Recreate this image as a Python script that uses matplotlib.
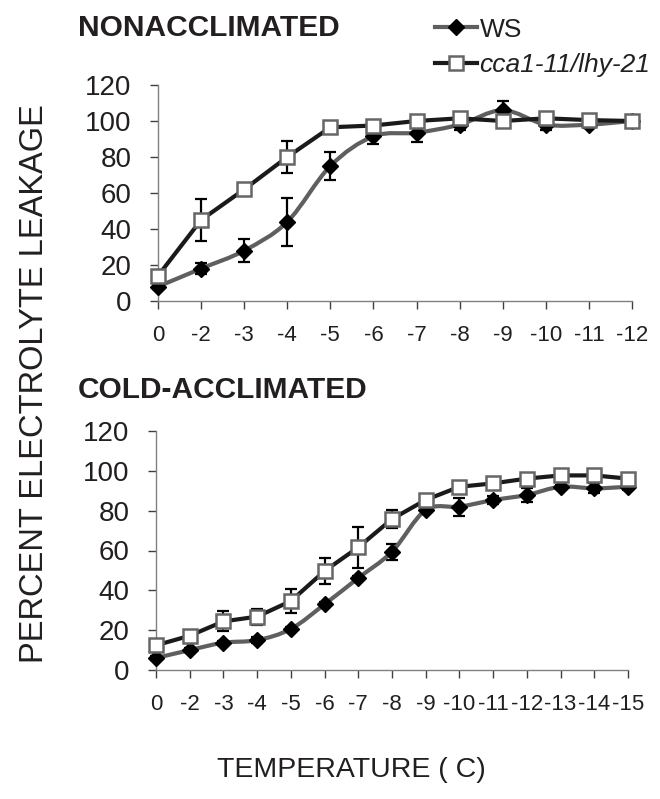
import matplotlib
matplotlib.use("Agg")
import matplotlib.pyplot as plt
from matplotlib.lines import Line2D
from matplotlib.path import Path
from matplotlib.patches import PathPatch

plt.rcParams["font.family"] = ["Liberation Sans", "DejaVu Sans"]

# Nonacclimated
na_temps = ["0", "-2", "-3", "-4", "-5", "-6", "-7", "-8", "-9", "-10", "-11", "-12"]
na_ws = [8, 18, 28, 44, 75, 91.5, 93.5, 98, 106, 98, 98, 100]
na_ws_err = [1.5, 3, 6.5, 13.5, 8, 4.5, 5, 3, 5, 3, 2, 1]
na_cca = [14, 45, 62, 80, 96.5, 97.5, 100, 101.5, 100, 101.5, 100.5, 100]
na_cca_err = [1, 11.5, 1, 9, 1, 1, 1, 1, 1, 1, 1, 1]

# Cold-acclimated
ca_temps = ["0", "-2", "-3", "-4", "-5", "-6", "-7", "-8", "-9", "-10", "-11",
            "-12", "-13", "-14", "-15"]
ca_ws = [6, 10, 13.7, 15, 20.6, 33, 46.2, 59.4, 80.3, 82, 85.3, 87.9, 92, 91.2, 92]
ca_ws_err = [1, 1, 1, 1.5, 1, 1, 1, 4, 1, 4.6, 2, 3.5, 1, 2.5, 1.5]
ca_cca = [12.4, 17.2, 24.4, 26.8, 34.6, 49.7, 61.6, 75.8, 85.4, 92, 93.7, 96.1, 97.7, 97.7, 96.1]
ca_cca_err = [1, 1, 5, 4, 6, 6.7, 10.3, 4.6, 1, 1, 1, 1, 1, 1, 1]

TEXT = "#231f20"
WS_COLOR = "#5f5f5f"
CCA_COLOR = "#1a1a1a"

fig = plt.figure(figsize=(6.6, 7.99), dpi=100)
ax_na = fig.add_axes([158 / 660, 1 - 301 / 799, 474 / 660, 216 / 799])
ax_ca = fig.add_axes([156 / 660, 1 - 670 / 799, 472 / 660, 239 / 799])


def smooth_path(xs, ys):
    # Excel-style smoothed line: cubic Bezier through every point
    pts = list(zip(xs, ys))
    n = len(pts)
    verts = [pts[0]]
    codes = [Path.MOVETO]
    for i in range(n - 1):
        p0 = pts[max(i - 1, 0)]
        p1 = pts[i]
        p2 = pts[i + 1]
        p3 = pts[min(i + 2, n - 1)]
        c1 = (p1[0] + (p2[0] - p0[0]) / 6, p1[1] + (p2[1] - p0[1]) / 6)
        c2 = (p2[0] - (p3[0] - p1[0]) / 6, p2[1] - (p3[1] - p1[1]) / 6)
        verts += [c1, c2, p2]
        codes += [Path.CURVE4] * 3
    return Path(verts, codes)


def draw(ax, temps, ws, ws_err, cca, cca_err):
    x = list(range(len(temps)))
    ax.errorbar(x, ws, yerr=ws_err, fmt="none", ecolor="black", elinewidth=1.6,
                capsize=4, capthick=1.6, clip_on=False, zorder=2)
    ax.add_patch(PathPatch(smooth_path(x, ws), facecolor="none", edgecolor=WS_COLOR,
                           lw=3, clip_on=False, zorder=3))
    ax.plot(x, ws, ls="none", marker="D", ms=8, mfc="black", mec="black",
            clip_on=False, zorder=3)
    ax.errorbar(x, cca, yerr=cca_err, fmt="none", ecolor="black", elinewidth=1.6,
                capsize=4, capthick=1.6, clip_on=False, zorder=4)
    ax.plot(x, cca, color=CCA_COLOR, lw=3, marker="s", ms=10, mfc="white", mec="#666666",
            mew=1.8, clip_on=False, zorder=5)
    ax.set_xlim(0, len(temps) - 1)
    ax.set_ylim(0, 120)
    ax.set_yticks(range(0, 121, 20))
    ax.set_xticks(x)
    ax.set_xticklabels(temps)
    for side in ("top", "right"):
        ax.spines[side].set_visible(False)
    for side in ("left", "bottom"):
        ax.spines[side].set_color("#808080")
        ax.spines[side].set_linewidth(1.0)
    ax.tick_params(axis="y", direction="out", length=6, width=1, color="#404040",
                   pad=13, labelsize=20, labelcolor=TEXT)
    ax.tick_params(axis="x", direction="out", length=6, width=1, color="#404040",
                   pad=11, labelsize=16, labelcolor=TEXT)


draw(ax_na, na_temps, na_ws, na_ws_err, na_cca, na_cca_err)
draw(ax_ca, ca_temps, ca_ws, ca_ws_err, ca_cca, ca_cca_err)

fig.text(78 / 660, 1 - 28 / 799, "NONACCLIMATED", fontsize=21.5, fontweight="bold",
         color=TEXT, ha="left", va="center")
fig.text(78 / 660, 1 - 390 / 799, "COLD-ACCLIMATED", fontsize=21.5, fontweight="bold",
         color=TEXT, ha="left", va="center")
fig.text(35 / 660, 1 - 384 / 799, "PERCENT ELECTROLYTE LEAKAGE", fontsize=23.5,
         rotation=90, color=TEXT, ha="center", va="center")
fig.text(351 / 660, 1 - 770 / 799, "TEMPERATURE ( C)", fontsize=20.5,
         color=TEXT, ha="center", va="center")

handles = [
    Line2D([], [], color=WS_COLOR, lw=3, marker="D", ms=8, mfc="black", mec="black"),
    Line2D([], [], color=CCA_COLOR, lw=3, marker="s", ms=10, mfc="white",
           mec="#666666", mew=1.8),
]
leg = fig.legend(handles, ["WS", "cca1-11/lhy-21"], loc="upper left",
                 bbox_to_anchor=(424 / 660, 1 - 7 / 799), frameon=False,
                 fontsize=19, handlelength=1.6, handletextpad=0.1,
                 labelspacing=0.45, borderaxespad=0)
for t in leg.get_texts():
    t.set_color(TEXT)
leg.get_texts()[1].set_fontstyle("italic")

fig.savefig("out.png", dpi=100)
